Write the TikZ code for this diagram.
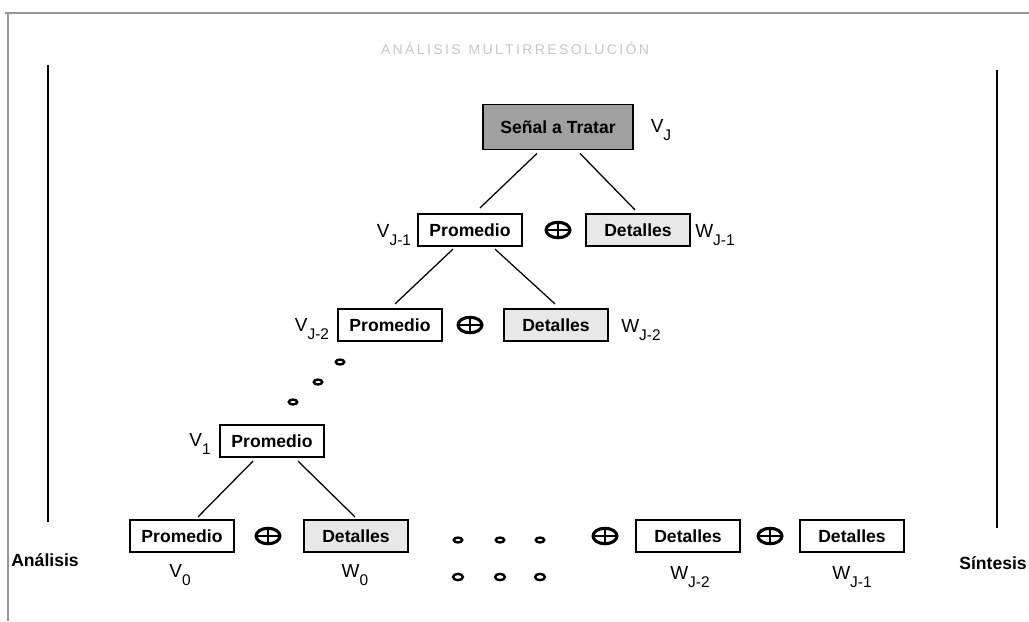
\documentclass[tikz,border=0pt]{standalone}
\usepackage{fontspec}
\setmainfont{Liberation Sans}
\usetikzlibrary{calc,shapes.geometric}
\definecolor{boxgray}{RGB}{160,160,160}
\definecolor{framegray}{RGB}{150,150,150}
\newcommand{\lowix}[1]{\raisebox{-0.8ex}{\fontsize{11}{12}\selectfont #1}}
\tikzset{
  block/.style={
    draw=black,
    line width=1.3pt,
    minimum width=74pt,
    minimum height=23pt,
    inner sep=0pt,
    font=\fontsize{12.5}{14}\selectfont\bfseries
  },
  block-detail/.style={block, fill=gray!18},
  block-signal/.style={block, fill=boxgray, minimum width=107pt, minimum height=32pt},
  oplus/.style={
    ellipse,
    draw=black,
    line width=2.2pt,
    minimum width=17pt,
    minimum height=11pt,
    inner sep=0pt,
    path picture={
      \draw[line width=1.8pt] (path picture bounding box.north) -- (path picture bounding box.south);
      \draw[line width=1.8pt] (path picture bounding box.west) -- (path picture bounding box.east);
    }
  },
  dotell/.style={
    ellipse,
    draw=black,
    line width=1.7pt,
    minimum width=6pt,
    minimum height=3.5pt,
    inner sep=0pt
  },
  space-label/.style={font=\fontsize{13.5}{15}\selectfont, inner sep=0pt},
  side-label/.style={font=\fontsize{12.5}{14}\selectfont\bfseries, inner sep=0pt},
  branch/.style={line width=0.9pt},
  axis/.style={line width=1.6pt}
}

\begin{document}
\begin{tikzpicture}[x=0.025cm, y=-0.025cm]
  \useasboundingbox (0,0) rectangle (1029,621);
  % frame of the scanned figure
  \draw[framegray, line width=1.2pt] (5,13) -- (1029,13);
  \draw[framegray, line width=1pt] (8,14) -- (8,621);
  \node[gray!45, font=\fontsize{10}{12}\selectfont] (title) at (515,48)
    {A\,N\,Á\,L\,I\,S\,I\,S\ \ M\,U\,L\,T\,I\,R\,R\,E\,S\,O\,L\,U\,C\,I\,Ó\,N};

  % top level
  \node[block-signal] (senal) at (558,127) {Señal a Tratar};
  \node[space-label] (vj) at (661,130) {V\lowix{J}};

  % level J-1
  \node[block] (prom1) at (470,230) {Promedio};
  \node[oplus] (sum1) at (558,230) {};
  \node[block-detail] (det1) at (638,230) {Detalles};
  \node[space-label] (v1lab) at (394,235) {V\lowix{J-1}};
  \node[space-label] (w1lab) at (715,235) {W\lowix{J-1}};

  % level J-2
  \node[block] (prom2) at (390,325) {Promedio};
  \node[oplus] (sum2) at (470,325) {};
  \node[block-detail] (det2) at (556,325) {Detalles};
  \node[space-label] (v2lab) at (312,329) {V\lowix{J-2}};
  \node[space-label] (w2lab) at (641,330) {W\lowix{J-2}};

  % dots down the left
  \node[dotell] (d1) at (340,362) {};
  \node[dotell] (d2) at (318,382) {};
  \node[dotell] (d3) at (293,402) {};

  % level 1
  \node[block] (prom3) at (272,441) {Promedio};
  \node[space-label] (v3lab) at (200,444) {V\lowix{1}};

  % level 0 row
  \node[block] (prom0) at (182,536) {Promedio};
  \node[oplus] (sum0) at (268,536) {};
  \node[block-detail] (det0) at (356,536) {Detalles};
  \foreach \x [count=\i] in {458,500,540} {
    \node[dotell] (row\i) at (\x,540) {};
    \node[dotell, minimum width=7pt, minimum height=4.5pt] (lab\i) at (\x,577) {};
  }
  \node[oplus] (sumA) at (605,536) {};
  \node[block] (detA) at (688,536) {Detalles};
  \node[oplus] (sumB) at (770,536) {};
  \node[block] (detB) at (852,536) {Detalles};

  \node[space-label] (v0lab) at (180,575) {V\lowix{0}};
  \node[space-label] (w0lab) at (355,575) {W\lowix{0}};
  \node[space-label] (wAlab) at (690,577) {W\lowix{J-2}};
  \node[space-label] (wBlab) at (852,577) {W\lowix{J-1}};

  % branches
  \draw[branch] ($(senal.south)+(-21,3)$) -- ($(prom1.north)+(10,-5)$);
  \draw[branch] ($(senal.south)+(22,3)$) -- ($(det1.north)+(-3,-3)$);
  \draw[branch] ($(prom1.south)+(-17,2)$) -- ($(prom2.north)+(5,-4)$);
  \draw[branch] ($(prom1.south)+(25,2)$) -- ($(det2.north)+(-1,-4)$);
  \draw[branch] ($(prom3.south)+(-19,3)$) -- ($(prom0.north)+(16,-2)$);
  \draw[branch] ($(prom3.south)+(26,3)$) -- ($(det0.north)+(-1,-2)$);

  % analysis / synthesis axes
  \coordinate (antop) at (48,65);
  \coordinate (anbot) at (48,522);
  \coordinate (sintop) at (997,70);
  \coordinate (sinbot) at (997,528);
  \draw[axis] (antop) -- (anbot);
  \draw[axis] (sintop) -- (sinbot);
  \node[side-label] (analisis) at (45,560) {Análisis};
  \node[side-label] (sintesis) at (993,563) {Síntesis};
\end{tikzpicture}
\end{document}
